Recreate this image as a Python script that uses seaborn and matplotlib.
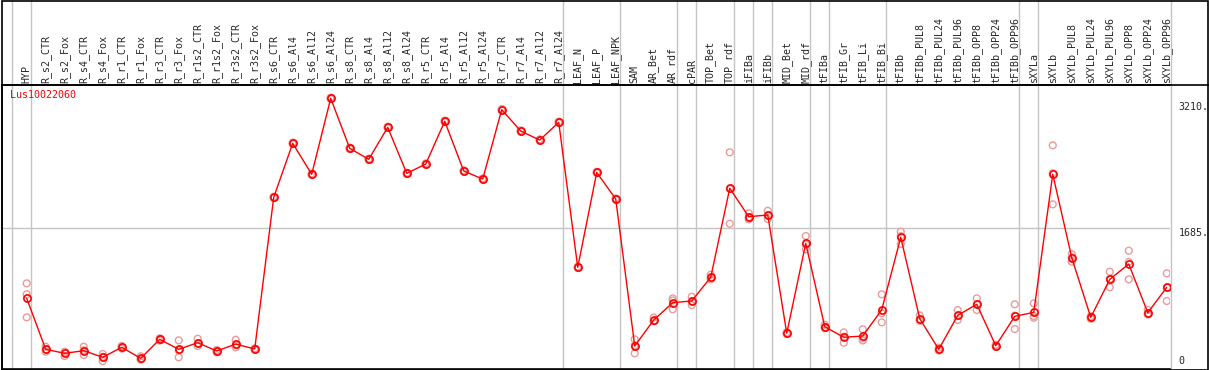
import numpy as np
import pandas as pd
import matplotlib
matplotlib.use("Agg")
import matplotlib.pyplot as plt
import seaborn as sns
from matplotlib.lines import Line2D
from matplotlib.patches import Rectangle

samples = ["HYP", "R_s2_CTR", "R_s2_Fox", "R_s4_CTR", "R_s4_Fox", "R_r1_CTR", "R_r1_Fox",
           "R_r3_CTR", "R_r3_Fox", "R_r1s2_CTR", "R_r1s2_Fox", "R_r3s2_CTR", "R_r3s2_Fox",
           "R_s6_CTR", "R_s6_Al4", "R_s6_Al12", "R_s6_Al24", "R_s8_CTR", "R_s8_Al4", "R_s8_Al12",
           "R_s8_Al24", "R_r5_CTR", "R_r5_Al4", "R_r5_Al12", "R_r5_Al24", "R_r7_CTR", "R_r7_Al4",
           "R_r7_Al12", "R_r7_Al24", "LEAF_N", "LEAF_P", "LEAF_NPK", "SAM", "AR_Bet", "AR_rdf",
           "cPAR", "TOP_Bet", "TOP_rdf", "iFIBa", "iFIBb", "MID_Bet", "MID_rdf", "tFIBa",
           "tFIB_Gr", "tFIB_Li", "tFIB_Bi", "tFIBb", "tFIBb_PUL8", "tFIBb_PUL24", "tFIBb_PUL96",
           "tFIBb_OPP8", "tFIBb_OPP24", "tFIBb_OPP96", "sXYLa", "sXYLb", "sXYLb_PUL8",
           "sXYLb_PUL24", "sXYLb_PUL96", "sXYLb_OPP8", "sXYLb_OPP24", "sXYLb_OPP96"]

mean_expr = [851, 250, 203, 234, 156, 274, 144, 368, 250, 328, 230, 312, 254,
             2042, 2679, 2314, 3210, 2620, 2491, 2868, 2325, 2435, 2939, 2353, 2258,
             3076, 2824, 2718, 2927, 1217, 2336, 2022, 289, 596, 800, 820, 1099, 2149,
             1814, 1834, 439, 1500, 517, 392, 407, 717, 1571, 611, 250, 651, 781, 293,
             639, 686, 2314, 1330, 627, 1075, 1256, 682, 981]

rep1 = [1028, 281, 222, 281, 195, 290, 168, 380, 356, 375, 242, 363, 262,
        2050, 2688, 2322, 3218, 2628, 2499, 2876, 2333, 2443, 2947, 2361, 2266,
        3084, 2832, 2726, 2935, 1225, 2344, 2030, 368, 625, 851, 870, 1130, 2573,
        1854, 1884, 450, 1586, 540, 450, 486, 899, 1637, 650, 270, 713, 851, 305,
        781, 792, 2656, 1374, 640, 1165, 1413, 715, 1146]
rep2 = [627, 222, 171, 183, 112, 258, 128, 352, 156, 289, 215, 274, 246,
        2034, 2670, 2306, 3202, 2612, 2483, 2860, 2317, 2427, 2931, 2345, 2250,
        3068, 2816, 2710, 2919, 1209, 2328, 2014, 203, 580, 722, 772, 1075, 1731,
        1783, 1787, 430, 1429, 500, 328, 380, 675, 1492, 585, 235, 596, 713, 280,
        489, 623, 1960, 1283, 610, 981, 1075, 660, 820]
rep3 = [899, 247, 216, 238, 161, 274, 136, 372, 238, 320, 233, 299, 254,
        2042, 2679, 2314, 3210, 2620, 2491, 2868, 2325, 2435, 2939, 2353, 2258,
        3076, 2824, 2718, 2927, 1217, 2336, 2022, 296, 583, 827, 818, 1092, 2143,
        1805, 1831, 437, 1485, 511, 398, 355, 568, 1584, 598, 245, 644, 779, 294,
        647, 643, 2326, 1333, 631, 1079, 1280, 671, 977]

# group separators sit just right of these samples
group_ends = [-1, 0, 28, 31, 34, 35, 37, 38, 39, 41, 42, 45, 52, 53, 60]

gene = "Lus10022060"
mono = "DejaVu Sans Mono"

pos = np.arange(len(samples))
reps = pd.DataFrame({
    "pos": np.concatenate([pos, pos, pos]),
    "value": rep1 + rep2 + rep3,
})

sns.set_style("white")
fig = plt.figure(figsize=(12.09, 3.70), dpi=100)
ax = fig.add_axes([2 / 1209, 1 / 370, 1168 / 1209, 284 / 370])

sns.scatterplot(data=reps, x="pos", y="value", ax=ax, s=24, marker="o", legend=False, zorder=3)
pts = ax.collections[-1]
pts.set_facecolor("none")
pts.set_edgecolor("#ec9a9a")
pts.set_linewidth(1.0)

sns.lineplot(x=pos, y=mean_expr, ax=ax, color="red", linewidth=1.0, marker="o",
             markersize=5.2, markerfacecolor="none", markeredgecolor="red",
             markeredgewidth=1.2, zorder=4)

ax.set_xlim(-1.3, 60.17)
ax.set_ylim(18, 3367)

for g in group_ends:
    ax.axvline(g + 0.2, ymin=0, ymax=1.3, color="#c4c4c4", lw=1, clip_on=False, zorder=1)
ax.axhline(1685, color="#c4c4c4", lw=1, zorder=1)

ax.xaxis.tick_top()
ax.set_xticks(pos)
ax.set_xticklabels(samples, rotation=90, fontsize=7.2, family=mono)
ax.tick_params(axis="x", length=0, pad=1.5)
ax.set_yticks([])
ax.set_xlabel("")
ax.set_ylabel("")

for s in ["left", "bottom", "top"]:
    ax.spines[s].set_color("black")
    ax.spines[s].set_linewidth(1.2)
ax.spines["right"].set_visible(False)

ax.text(0.0065, 0.965, gene, transform=ax.transAxes, color="red", fontsize=7.2,
        family=mono, va="center", ha="left")

ytf = ax.get_yaxis_transform()
ax.annotate("3210.", xy=(1, 3210), xycoords=ytf, xytext=(6, -3), textcoords="offset points",
            fontsize=7.2, family=mono, va="top", ha="left", annotation_clip=False)
ax.annotate("1685.", xy=(1, 1685), xycoords=ytf, xytext=(6, 0), textcoords="offset points",
            fontsize=7.2, family=mono, va="top", ha="left", annotation_clip=False)
ax.annotate("0", xy=(1, 0), xycoords=ytf, xytext=(6, 3), textcoords="offset points",
            fontsize=7.2, family=mono, va="bottom", ha="left", annotation_clip=False)

# header line and outer frame across the full width
fig.add_artist(Line2D([2 / 1209, 1], [1 - 85 / 370, 1 - 85 / 370], color="black", lw=1.2,
                      transform=fig.transFigure))
fig.add_artist(Rectangle((1.5 / 1209, 0.5 / 370), 1 - 2.5 / 1209, 1 - 1 / 370, fill=False,
                         edgecolor="black", lw=1.2, transform=fig.transFigure))

fig.savefig("out.png", dpi=100)
